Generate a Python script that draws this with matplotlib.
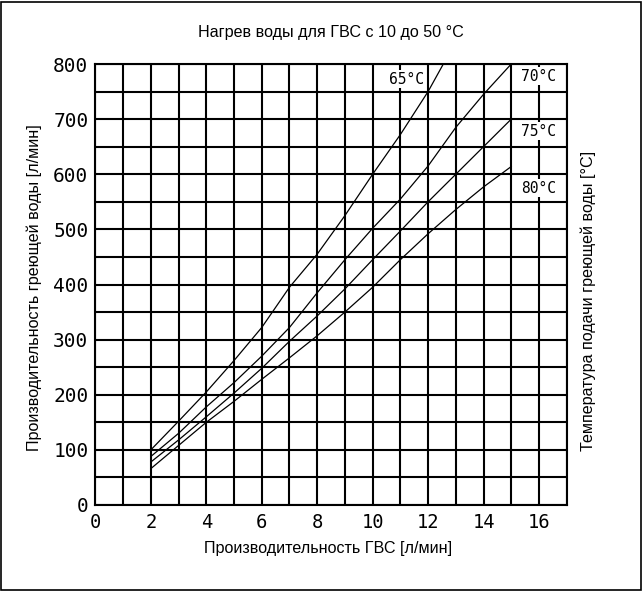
import matplotlib
matplotlib.use("Agg")
import matplotlib.pyplot as plt
from matplotlib.patches import Rectangle

# DHW flow [l/min] and heating-water flow [l/min] per supply temperature
x_65 = [2, 3, 4, 5, 6, 7, 8, 9, 10, 11, 12, 12.55]
q_65 = [100, 152, 205, 262, 322, 395, 455, 525, 600, 672, 750, 800]

x_dhw = [2, 3, 4, 5, 6, 7, 8, 9, 10, 11, 12, 13, 14, 15]
q_70 = [88, 130, 178, 222, 270, 322, 385, 445, 502, 555, 615, 685, 745, 800]
q_75 = [78, 118, 160, 203, 248, 297, 343, 392, 445, 497, 550, 600, 650, 700]
q_80 = [66, 108, 150, 188, 228, 267, 307, 350, 395, 445, 492, 536, 577, 614]

series_labels = ["65°C", "70°C", "75°C", "80°C"]
x_ticks = [0, 2, 4, 6, 8, 10, 12, 14, 16]
y_ticks = [0, 100, 200, 300, 400, 500, 600, 700, 800]

title = "Нагрев воды для ГВС с 10 до 50 °C"
x_label = "Производительность ГВС [л/мин]"
y_label = "Производительность греющей воды [л/мин]"
y2_label = "Температура подачи греющей воды [°C]"

W, H = 642, 591
fig = plt.figure(figsize=(W / 100, H / 100), dpi=100)
ax = fig.add_axes([95.4 / W, 1 - 505 / H, (566.7 - 95.4) / W, (505 - 64) / H])

ax.set_xlim(0, 17)
ax.set_ylim(0, 800)

# dense square grid
for gx in range(0, 18):
    ax.axvline(gx, color="black", lw=1.5, zorder=1)
for gy in range(0, 801, 50):
    ax.axhline(gy, color="black", lw=1.5, zorder=1)

for s in ax.spines.values():
    s.set_linewidth(1.5)
    s.set_color("black")

curve_kw = dict(color="black", lw=0.9, zorder=3)
ax.plot(x_65, q_65, **curve_kw)
ax.plot(x_dhw, q_70, **curve_kw)
ax.plot(x_dhw, q_75, **curve_kw)
ax.plot(x_dhw, q_80, **curve_kw)

mono = "DejaVu Sans Mono"
box = dict(facecolor="white", edgecolor="none", pad=1.0)
lab_kw = dict(va="center", fontsize=10.5, family=mono, bbox=box, zorder=4)
ax.text(11.85, 772, series_labels[0], ha="right", **lab_kw)
ax.text(16, 778, series_labels[1], ha="center", **lab_kw)
ax.text(16, 678, series_labels[2], ha="center", **lab_kw)
ax.text(16, 575, series_labels[3], ha="center", **lab_kw)

ax.set_xticks(x_ticks)
ax.set_yticks(y_ticks)
ax.set_xticklabels([str(v) for v in x_ticks], family=mono, fontsize=13.5)
ax.set_yticklabels([str(v) for v in y_ticks], family=mono, fontsize=14)
ax.tick_params(length=0)
ax.tick_params(axis="x", pad=6)
ax.tick_params(axis="y", pad=5)

sans = "Liberation Sans"
fs = 11.6
fig.text(331 / W, 1 - 32 / H, title, ha="center", va="center", fontsize=fs, family=sans)
fig.text(328 / W, 1 - 548 / H, x_label, ha="center", va="center", fontsize=fs, family=sans)
fig.text(34 / W, 1 - 288 / H, y_label, ha="center", va="center", rotation=90,
         fontsize=fs, family=sans)
fig.text(588 / W, 1 - 301 / H, y2_label, ha="center", va="center", rotation=90,
         fontsize=fs, family=sans)

# outer frame around the whole figure
fig.patches.append(Rectangle((1.5 / W, 1.5 / H), (W - 3) / W, (H - 3) / H,
                             transform=fig.transFigure, fill=False,
                             edgecolor="black", lw=1.2))

fig.savefig("out.png", dpi=100)
